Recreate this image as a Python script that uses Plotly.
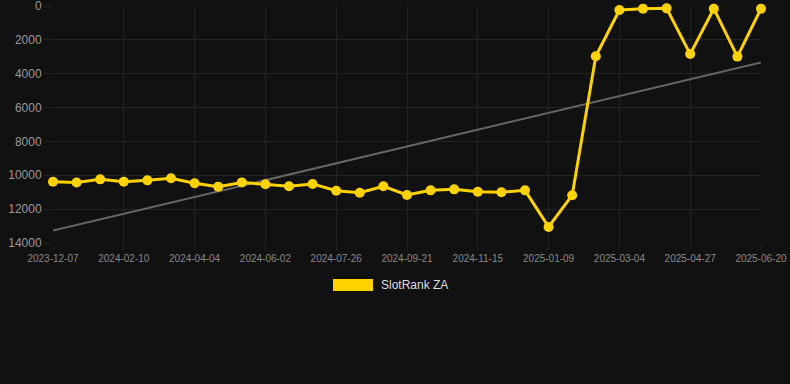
import numpy as np
import plotly.graph_objects as go

dates = ["2023-12-07", "2023-12-28", "2024-01-19", "2024-02-10", "2024-02-28", "2024-03-17",
         "2024-04-04", "2024-04-24", "2024-05-13", "2024-06-02", "2024-06-20", "2024-07-08",
         "2024-07-26", "2024-08-14", "2024-09-02", "2024-09-21", "2024-10-09", "2024-10-27",
         "2024-11-15", "2024-12-03", "2024-12-21", "2025-01-09", "2025-01-27", "2025-02-14",
         "2025-03-04", "2025-03-22", "2025-04-09", "2025-04-27", "2025-05-15", "2025-06-02",
         "2025-06-20"]
rank = [10380, 10430, 10240, 10380, 10300, 10180, 10470, 10670, 10420, 10530, 10650, 10510,
        10910, 11030, 10650, 11160, 10890, 10830, 10970, 11000, 10890, 13050, 11180, 2970,
        240, 160, 140, 2840, 160, 2990, 160]
tick_labels = dates[::3]
y_ticks = [0, 2000, 4000, 6000, 8000, 10000, 12000, 14000]
y_tick_text = ["0", "2000", "4000", "6000", "8000", "10000", "12000", "14000"]
series_name = "SlotRank ZA"

idx = np.arange(len(rank))
slope, intercept = np.polyfit(idx, rank, 1)
trend = slope * idx + intercept

BG = "#111111"
GRID = "#232323"
YELLOW = "#FFD200"

fig = go.Figure()
fig.add_trace(go.Scatter(x=dates, y=trend, mode="lines",
                         line=dict(color="#666666", width=2), showlegend=False,
                         hoverinfo="skip", cliponaxis=False))
fig.add_trace(go.Scatter(x=dates, y=rank, mode="lines+markers", name=series_name,
                         line=dict(color=YELLOW, width=3),
                         marker=dict(color=YELLOW, size=10), showlegend=False,
                         cliponaxis=False))

fig.update_layout(
    width=790, height=384,
    paper_bgcolor=BG, plot_bgcolor=BG,
    margin=dict(l=53, r=29, t=6, b=141, autoexpand=False),
    font=dict(family="Liberation Sans, Arial, sans-serif", color="#999999"),
    xaxis=dict(type="category", categoryorder="array", categoryarray=dates,
               range=[0, len(dates) - 1], automargin=False,
               tickmode="array", tickvals=tick_labels, ticktext=tick_labels,
               showgrid=True, gridcolor=GRID, gridwidth=1,
               ticks="outside", ticklen=6, tickcolor=GRID,
               tickfont=dict(size=10, color="#888888"),
               ticklabeloverflow="allow",
               zeroline=False, showline=False),
    yaxis=dict(range=[14000, 0], automargin=False,
               tickmode="array", tickvals=y_ticks, ticktext=y_tick_text,
               showgrid=True, gridcolor=GRID, gridwidth=1,
               ticks="outside", ticklen=8, tickcolor=GRID,
               tickfont=dict(size=12, color="#999999"),
               ticklabeloverflow="allow",
               zeroline=False, showline=False),
    showlegend=False,
)

fig.add_shape(type="rect", xref="paper", yref="paper",
              x0=(333 - 53) / 708, x1=(373 - 53) / 708,
              y0=(243 - 291) / 237, y1=(243 - 279) / 237,
              fillcolor=YELLOW, line=dict(width=0))
fig.add_annotation(xref="paper", yref="paper", x=(379 - 53) / 708, y=(243 - 285) / 237,
                   text=series_name, showarrow=False, xanchor="left", yanchor="middle",
                   font=dict(size=12, color="#dddddd"))

fig.write_html("out.html", config={"displayModeBar": False},
               post_script="document.body.style.margin='0';document.body.style.background='#111111';")
